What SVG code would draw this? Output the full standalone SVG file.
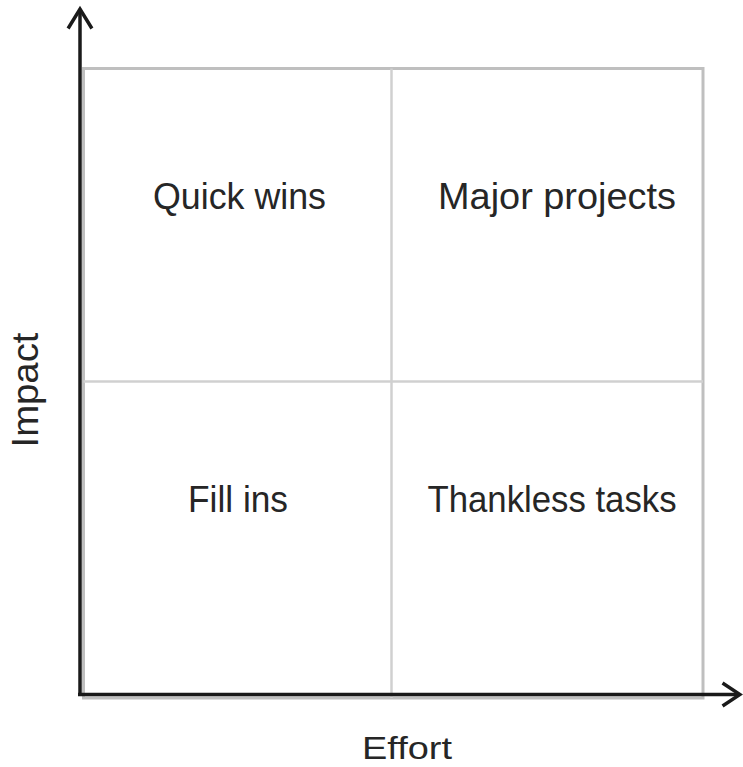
<svg xmlns="http://www.w3.org/2000/svg" width="743" height="767" viewBox="0 0 743 767">
<style>
.lbl{font-family:"Liberation Sans",Arial,sans-serif;font-size:36px;fill:#262626;text-anchor:middle}
.box{fill:none;stroke:#bfbfbf;stroke-width:3}
.mid{stroke:#d0d0d0;stroke-width:2.5;fill:none}
.axis{stroke:#1a1a1a;stroke-width:3.5;fill:none}
.head{stroke:#1a1a1a;stroke-width:3.5;fill:none;stroke-linejoin:miter;stroke-linecap:square}
</style>
<rect width="743" height="767" fill="#ffffff"/>
<g id="grid">
<rect class="box" x="83.5" y="68.5" width="619.5" height="629.5"/>
<line class="mid" x1="391.5" y1="68.5" x2="391.5" y2="698"/>
<line class="mid" x1="83.5" y1="381.5" x2="703" y2="381.5"/>
</g>
<g id="quick-wins"><text class="lbl" x="239.5" y="209" textLength="173" lengthAdjust="spacingAndGlyphs">Quick wins</text></g>
<g id="major-projects"><text class="lbl" x="557" y="209" textLength="238" lengthAdjust="spacingAndGlyphs">Major projects</text></g>
<g id="fill-ins"><text class="lbl" x="238" y="512" textLength="100" lengthAdjust="spacingAndGlyphs">Fill ins</text></g>
<g id="thankless-tasks"><text class="lbl" x="552" y="512" textLength="249" lengthAdjust="spacingAndGlyphs">Thankless tasks</text></g>
<g id="connectors">
<line class="axis" x1="80" y1="696" x2="80" y2="9"/>
<polyline class="head" points="69,27 80,9 91,27"/>
<line class="axis" x1="78" y1="694.5" x2="739" y2="694.5"/>
<polyline class="head" points="724,684 740,694.5 724,705"/>
</g>
<g id="effort"><text class="lbl" x="407" y="759" style="font-size:32px" textLength="90" lengthAdjust="spacingAndGlyphs">Effort</text></g>
<g id="impact"><text class="lbl" transform="translate(38,390) rotate(-90)" x="0" y="0" textLength="115" lengthAdjust="spacingAndGlyphs">Impact</text></g>
</svg>
